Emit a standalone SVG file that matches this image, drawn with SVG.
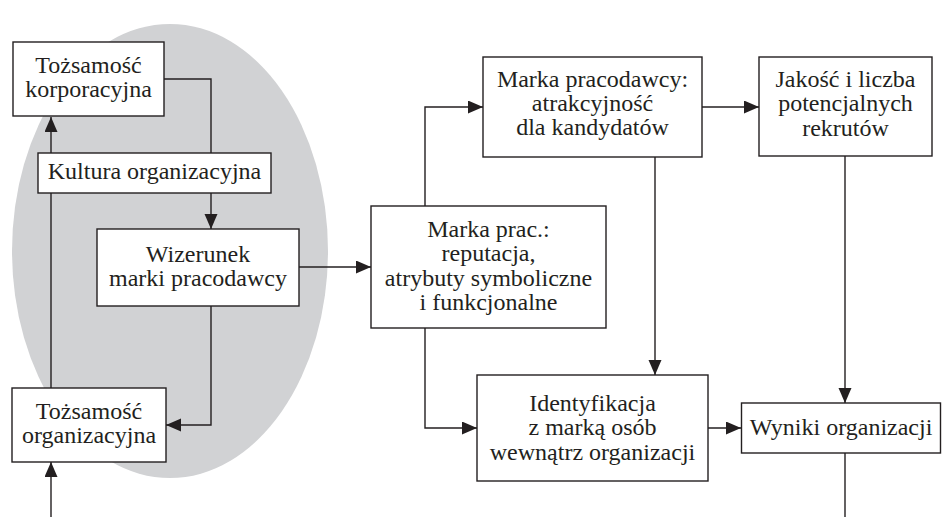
<svg xmlns="http://www.w3.org/2000/svg" width="942" height="517" viewBox="0 0 942 517">
<style>
.box{fill:#fff;stroke:#231f20;stroke-width:1.4}
.c{fill:none;stroke:#231f20;stroke-width:1.4}
</style>
<defs>
<marker id="ah" markerUnits="userSpaceOnUse" markerWidth="16" markerHeight="14" refX="15" refY="6.5" orient="auto">
<path d="M0,0 L15,6.5 L0,13 Z" fill="#231f20"/>
</marker>
</defs>
<rect width="942" height="517" fill="#fff"/>
<ellipse id="shade" cx="170" cy="251" rx="158" ry="227" fill="#d1d2d4"/>
<g id="connectors">
<path class="c" d="M51,388 V117" marker-end="url(#ah)"/>
<path class="c" d="M164,79 H211 V153"/>
<path class="c" d="M211,193 V229" marker-end="url(#ah)"/>
<path class="c" d="M211,306 V425 H166" marker-end="url(#ah)"/>
<path class="c" d="M51,517 V462" marker-end="url(#ah)"/>
<path class="c" d="M299,267 H371" marker-end="url(#ah)"/>
<path class="c" d="M425,206 V107 H483" marker-end="url(#ah)"/>
<path class="c" d="M425,328 V428 H477" marker-end="url(#ah)"/>
<path class="c" d="M655,157 V375" marker-end="url(#ah)"/>
<path class="c" d="M702,107 H759" marker-end="url(#ah)"/>
<path class="c" d="M845,156 V403" marker-end="url(#ah)"/>
<path class="c" d="M708,428 H741" marker-end="url(#ah)"/>
<path class="c" d="M845,453 V517"/>
</g>
<g id="nodes" font-family="Liberation Serif, DejaVu Serif, serif" font-size="24" fill="#231f20" text-anchor="middle">
<g id="tozsamosc-korporacyjna">
<rect class="box" x="13" y="42" width="151" height="74"/>
<text x="88.5" y="73">Tożsamość</text>
<text x="88.5" y="97">korporacyjna</text>
</g>
<g id="kultura">
<rect class="box" x="38" y="153" width="233" height="40"/>
<text x="154.5" y="179">Kultura organizacyjna</text>
</g>
<g id="wizerunek">
<rect class="box" x="97" y="229" width="202" height="77"/>
<text x="198" y="262">Wizerunek</text>
<text x="198" y="286">marki pracodawcy</text>
</g>
<g id="tozsamosc-organizacyjna">
<rect class="box" x="12" y="388" width="154" height="74"/>
<text x="89" y="419">Tożsamość</text>
<text x="89" y="443">organizacyjna</text>
</g>
<g id="marka-prac">
<rect class="box" x="371" y="206" width="235" height="122"/>
<text x="488.5" y="237">Marka prac.:</text>
<text x="488.5" y="261">reputacja,</text>
<text x="488.5" y="286">atrybuty symboliczne</text>
<text x="488.5" y="310">i funkcjonalne</text>
</g>
<g id="marka-pracodawcy">
<rect class="box" x="483" y="57" width="219" height="100"/>
<text x="592.5" y="87">Marka pracodawcy:</text>
<text x="592.5" y="111">atrakcyjność</text>
<text x="592.5" y="135">dla kandydatów</text>
</g>
<g id="jakosc">
<rect class="box" x="759" y="57" width="173" height="99"/>
<text x="845.5" y="87">Jakość i liczba</text>
<text x="845.5" y="111">potencjalnych</text>
<text x="845.5" y="136">rekrutów</text>
</g>
<g id="identyfikacja">
<rect class="box" x="477" y="375" width="231" height="106"/>
<text x="592.5" y="411">Identyfikacja</text>
<text x="592.5" y="435">z marką osób</text>
<text x="592.5" y="460">wewnątrz organizacji</text>
</g>
<g id="wyniki">
<rect class="box" x="741.5" y="403" width="199" height="50"/>
<text x="841" y="435">Wyniki organizacji</text>
</g>
</g>
</svg>
